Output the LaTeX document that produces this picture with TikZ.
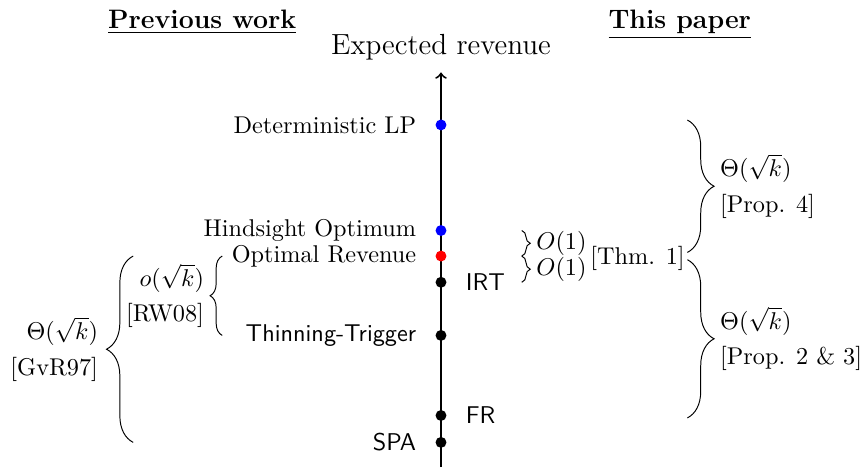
\documentclass[tikz,border=0pt]{standalone}
\usepackage{amsmath}
\usetikzlibrary{positioning, decorations.pathreplacing}

\begin{document}
\begin{tikzpicture}[dot/.style = {circle, fill, inner sep=0pt, minimum size=4.5pt},
    sans/.style = {font=\sffamily},
    head/.style = {anchor=base, font=\fontsize{11}{13}\selectfont\bfseries},
    bigbrace/.style = {decorate, decoration={brace, amplitude=11pt}},
    smallbrace/.style = {decorate, decoration={brace, amplitude=5pt}},
    tinybrace/.style = {decorate, decoration={brace, amplitude=3.5pt}}]
                \useasboundingbox (-6.39,0) rectangle (6.10,6.80);
                \node[head] (prev) at (-3.46,6.39) {\underline{Previous work}};
                \node[head] (this) at (3.46,6.39) {\underline{This paper}};
                \coordinate (bot) at (0,0.03);
                \coordinate (top) at (0,5.75);
                \draw[->, thick] (bot) -- (top);
                \node[above=0.05cm of top, font=\large] (ylab) {Expected revenue};
                \node[dot, fill=blue] (lp) at (0,4.99) {};
                \node[dot, fill=blue] (ho) at (0,3.46) {};
                \node[dot, fill=red] (or) at (0,3.09) {};
                \node[dot] (irt) at (0,2.71) {};
                \node[dot] (tt) at (0,1.94) {};
                \node[dot] (fr) at (0,0.78) {};
                \node[dot] (spa) at (0,0.39) {};
                \node[left=0.15cm of lp] {Deterministic LP};
                \node[left=0.15cm of ho] {Hindsight Optimum};
                \node[left=0.15cm of or] {Optimal Revenue};
                \node[sans, right=0.15cm of irt] {IRT};
                \node[sans, left=0.15cm of tt] {Thinning-Trigger};
                \node[sans, right=0.15cm of fr] {FR};
                \node[sans, left=0.15cm of spa] {SPA};
                % previous work
                \draw[bigbrace] ([xshift=-4.46cm]spa.center) -- ([xshift=-4.46cm]or.center)
                    node[midway, left=11pt, align=right] (gvr) {$\Theta(\sqrt{k})$\\[2.5pt]{[GvR97]}};
                \draw[smallbrace] ([xshift=-3.17cm]tt.center) -- ([xshift=-3.17cm]or.center)
                    node[midway, left=4pt, align=right] (rw) {$o(\sqrt{k})$\\[2.5pt]{[RW08]}};
                % this paper
                \draw[tinybrace] ([xshift=1.17cm]ho.center) -- ([xshift=1.17cm]or.center)
                    node[midway, right=2.5pt] (o1a) {$O(1)$};
                \draw[tinybrace] ([xshift=1.17cm]or.center) -- ([xshift=1.17cm]irt.center)
                    node[midway, right=2.5pt] (o1b) {$O(1)$};
                \node[anchor=west] (thm) at (2.04,3.06) {[Thm. 1]};
                \draw[bigbrace] ([xshift=3.57cm, yshift=2pt]lp.center) -- ([xshift=3.57cm, yshift=1.5pt]or.center)
                    node[midway, right=10pt, align=left] (p4) {$\Theta(\sqrt{k})$\\[2.5pt]{[Prop. 4]}};
                \draw[bigbrace] ([xshift=3.57cm, yshift=-1.5pt]or.center) -- ([xshift=3.57cm, yshift=-1pt]fr.center)
                    node[midway, right=10pt, align=left] (p23) {$\Theta(\sqrt{k})$\\[2.5pt]{[Prop. 2 \& 3]}};
            \end{tikzpicture}
\end{document}
